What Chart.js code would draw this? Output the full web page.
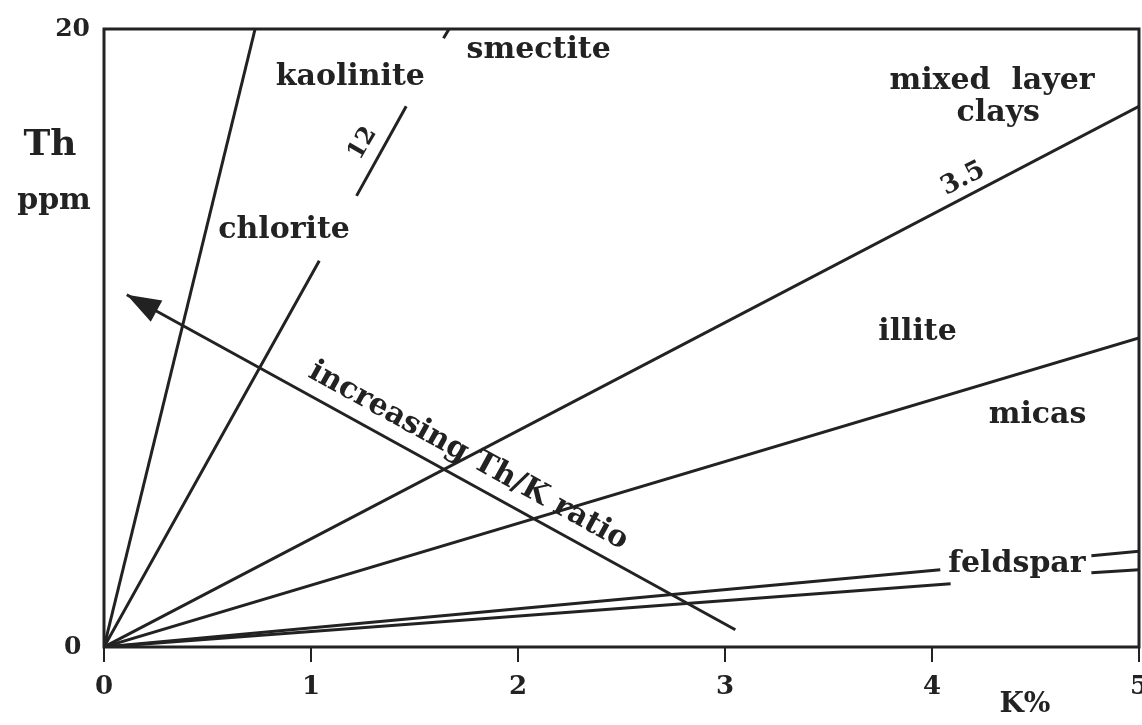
<!DOCTYPE html>
<html>
<head>
<meta charset="utf-8">
<script src="https://cdn.jsdelivr.net/npm/chart.js@4.4.0/dist/chart.umd.min.js"></script>
<style>
html, body { margin: 0; padding: 0; background: #fff; overflow: hidden; }
#wrap { position: absolute; left: 0; top: 0; width: 1160px; height: 725px; }
</style>
</head>
<body>
<div id="wrap"><canvas id="thkChart" width="1160" height="725"></canvas></div>
<script>
"use strict";

// Axis ticks
var kTicks = [0, 1, 2, 3, 4, 5];
var thTicks = [0, 20];

// Th/K ratio lines from the origin (null = break left for a label)
var kaoliniteK = [0, 0.73];
var kaoliniteTh = [0, 20];
var ratio12K = [0, 1.04, null, 1.22, 1.46, null, 1.64, 1.667];
var ratio12Th = [0, 12.5, null, 14.6, 17.5, null, 19.7, 20];
var ratio35K = [0, 5];
var ratio35Th = [0, 17.5];
var illiteK = [0, 5];
var illiteTh = [0, 10];
var feldsparHiK = [0, 4.04, null, 4.77, 5];
var feldsparHiTh = [0, 2.5, null, 2.95, 3.1];
var feldsparLoK = [0, 4.09, null, 4.77, 5];
var feldsparLoTh = [0, 2.05, null, 2.4, 2.5];

// "increasing Th/K ratio" arrow, tail then tip
var arrowK = [3.05, 0.11];
var arrowTh = [0.56, 11.4];

var INK = "#222";
var SERIF = "'DejaVu Serif', 'Liberation Serif', serif";

// Text notes placed in K% / Th ppm units
var notes = [
	{ text: "kaolinite", k: 1.19, th: 18.45 },
	{ text: "smectite", k: 2.1, th: 19.3 },
	{ text: "mixed  layer", k: 4.29, th: 18.3 },
	{ text: "clays", k: 4.32, th: 17.26 },
	{ text: "chlorite", k: 0.87, th: 13.5 },
	{ text: "12", k: 1.25, th: 16.3, size: 24, rot: -60 },
	{ text: "3.5", k: 4.15, th: 15.15, size: 26, rot: -27 },
	{ text: "illite", k: 3.93, th: 10.2 },
	{ text: "micas", k: 4.51, th: 7.5 },
	{ text: "feldspar", k: 4.41, th: 2.69 },
	{ text: "increasing Th/K ratio", k: 1.76, th: 6.18, alongArrow: true },
];

function toPoints(ks, ths) {
	return ks.map(function (k, i) {
		return { x: k, y: ths[i] };
	});
}

function lineSet(label, ks, ths) {
	return {
		label: label,
		data: toPoints(ks, ths),
		showLine: true,
		borderColor: INK,
		borderWidth: 3,
		pointRadius: 0,
		spanGaps: false,
	};
}

// Frame, arrow head, texts
var thkDecor = {
	id: "thkDecor",
	afterDatasetsDraw: function (chart) {
		var ctx = chart.ctx;
		var a = chart.chartArea;
		var xs = chart.scales.x;
		var ys = chart.scales.y;

		ctx.save();
		ctx.strokeStyle = INK;
		ctx.fillStyle = INK;
		ctx.lineWidth = 3;
		ctx.strokeRect(a.left, a.top, a.right - a.left, a.bottom - a.top);

		var fx = xs.getPixelForValue(arrowK[0]);
		var fy = ys.getPixelForValue(arrowTh[0]);
		var tx = xs.getPixelForValue(arrowK[1]);
		var ty = ys.getPixelForValue(arrowTh[1]);
		var headAngle = Math.atan2(ty - fy, tx - fx);
		ctx.save();
		ctx.translate(tx, ty);
		ctx.rotate(headAngle);
		ctx.beginPath();
		ctx.moveTo(0, 0);
		ctx.lineTo(-34, -12);
		ctx.lineTo(-34, 12);
		ctx.closePath();
		ctx.fill();
		ctx.restore();

		ctx.textAlign = "center";
		ctx.textBaseline = "middle";
		notes.forEach(function (n) {
			var px = xs.getPixelForValue(n.k);
			var py = ys.getPixelForValue(n.th);
			var rot = (n.rot || 0) * Math.PI / 180;
			if (n.alongArrow) {
				rot = Math.atan2(fy - ty, fx - tx);
			}
			ctx.save();
			ctx.translate(px, py);
			ctx.rotate(rot);
			ctx.font = "bold " + (n.size || 30) + "px " + SERIF;
			ctx.fillText(n.text, 0, 0);
			ctx.restore();
		});

		// axis titles
		ctx.font = "bold 36px " + SERIF;
		ctx.fillText("Th", a.left - 54, 146);
		ctx.font = "bold 30px " + SERIF;
		ctx.fillText("ppm", a.left - 50, 201);
		ctx.font = "bold 28px " + SERIF;
		ctx.fillText("K%", a.right - 114, a.bottom + 58);
		ctx.restore();
	},
};

function initThKChart() {
	var el = document.getElementById("thkChart");
	new Chart(el, {
		type: "scatter",
		data: {
			datasets: [
				lineSet("kaolinite", kaoliniteK, kaoliniteTh),
				lineSet("12", ratio12K, ratio12Th),
				lineSet("3.5", ratio35K, ratio35Th),
				lineSet("illite", illiteK, illiteTh),
				lineSet("feldspar high", feldsparHiK, feldsparHiTh),
				lineSet("feldspar low", feldsparLoK, feldsparLoTh),
				lineSet("arrow", arrowK, arrowTh),
			],
		},
		options: {
			responsive: false,
			animation: false,
			layout: {
				padding: { top: 27, right: 21, left: 0, bottom: 0 },
			},
			scales: {
				x: {
					type: "linear",
					min: 0,
					max: 5,
					afterBuildTicks: function (scale) {
						scale.ticks = kTicks.map(function (v) {
							return { value: v };
						});
					},
					afterFit: function (scale) {
						scale.height = 78;
					},
					grid: {
						drawOnChartArea: false,
						drawTicks: true,
						tickLength: 15,
						color: INK,
						lineWidth: 2,
					},
					border: {
						display: false,
					},
					ticks: {
						color: INK,
						padding: 10,
						maxRotation: 0,
						font: {
							family: SERIF,
							size: 26,
							weight: "bold",
						},
					},
				},
				y: {
					type: "linear",
					min: 0,
					max: 20,
					afterBuildTicks: function (scale) {
						scale.ticks = thTicks.map(function (v) {
							return { value: v };
						});
					},
					afterFit: function (scale) {
						scale.width = 104;
					},
					grid: {
						display: false,
						drawTicks: false,
					},
					border: {
						display: false,
					},
					ticks: {
						color: INK,
						padding: 14,
						crossAlign: "center",
						font: {
							family: SERIF,
							size: 25,
							weight: "bold",
						},
					},
				},
			},
			plugins: {
				legend: {
					display: false,
				},
				tooltip: {
					enabled: false,
				},
			},
		},
		plugins: [thkDecor],
	});
}

(function () {
	initThKChart();
})();
</script>
</body>
</html>
